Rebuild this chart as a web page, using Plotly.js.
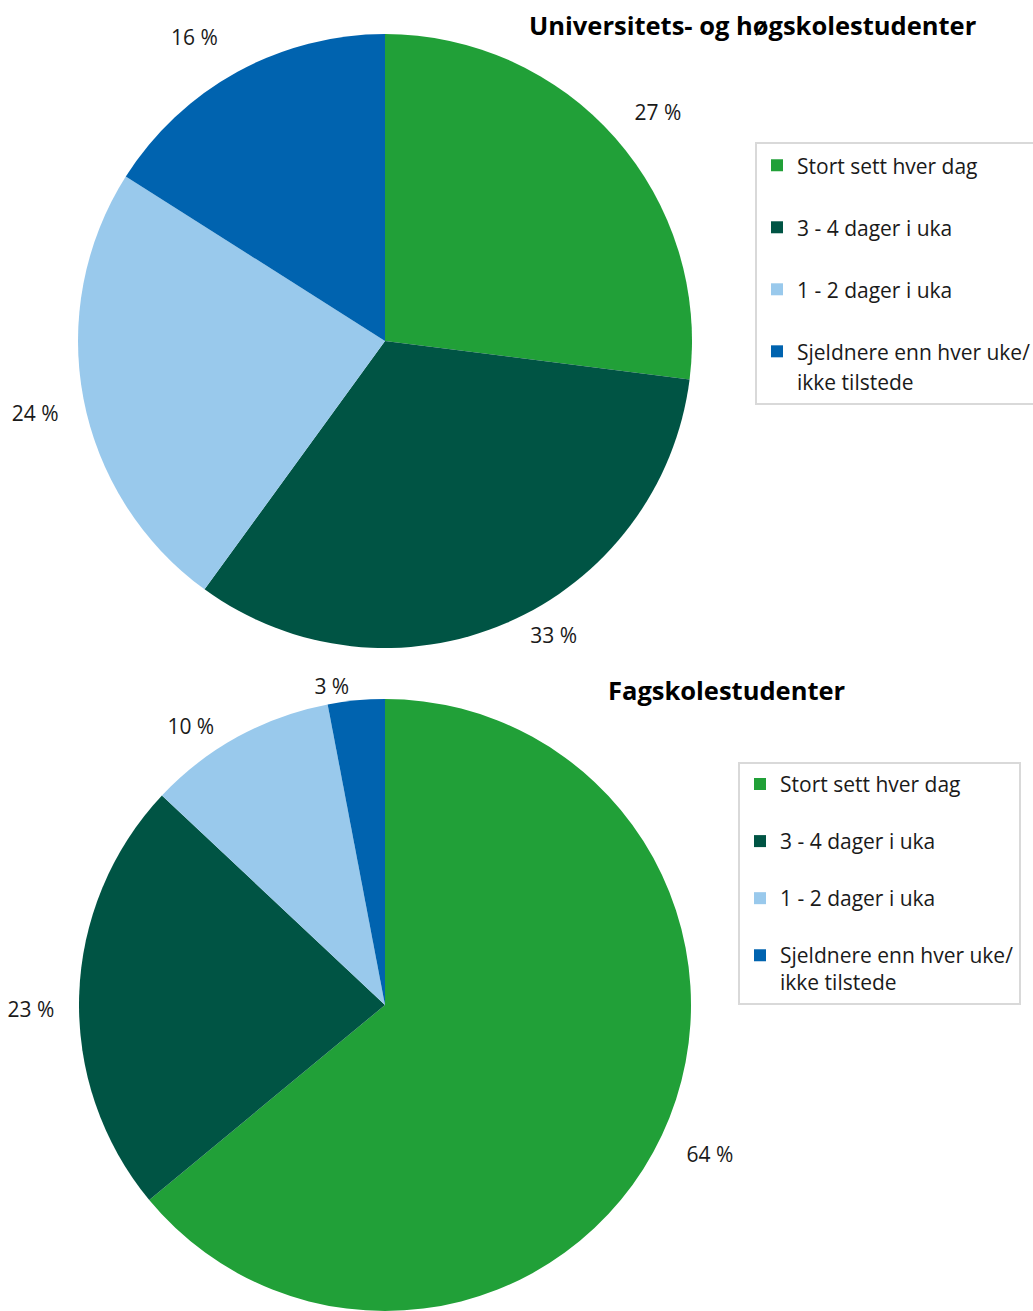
<!DOCTYPE html>
<html>
<head>
<meta charset="utf-8">
<script src="https://cdn.plot.ly/plotly-3.0.1.min.js"></script>
<style>html,body{margin:0;padding:0;background:#fff;}</style>
</head>
<body>
<div id="chart" style="width:1033px;height:1311px;"></div>
<script>
// Data
const categories = ["Stort sett hver dag", "3 - 4 dager i uka", "1 - 2 dager i uka", "Sjeldnere enn hver uke/<br>ikke tilstede"];
const universitetValues = [27, 33, 24, 16];
const fagskoleValues = [64, 23, 10, 3];
const titles = ["Universitets- og høgskolestudenter", "Fagskolestudenter"];
const colors = ["#21a038", "#005444", "#99c9ec", "#0063af"];

const FONT = "Open Sans, Noto Sans, sans-serif";
const itemFont = 21;
// legend display labels (pad single-line entries to give the original spacing)
const legendLabels = categories.map(c => c.includes("<br>")
  ? '<span style="font-size:' + itemFont + 'px">' + c + '</span>'
  : '<span style="font-size:' + itemFont + 'px">' + c + '</span><br> ');

// label templates: invisible padding pushes the value labels a bit further from the pie
const NB = "\u00a0";
const V = "%{value} %";
const topTemplates = [NB + V + "<br>" + NB, NB.repeat(3) + V, NB + "<br>" + V + NB.repeat(2), V + NB + "<br>" + NB];
const bottomTemplates = [NB + "<br>" + NB.repeat(2) + V, NB + "<br>" + V + NB.repeat(2), V + NB.repeat(3), V];

function pieTrace(values, domainY, legendId, group, templates) {
  return {
    type: "pie",
    labels: legendLabels,
    values: values,
    sort: false,
    direction: "clockwise",
    rotation: 0,
    marker: {colors: colors, line: {width: 0}},
    textposition: "outside",
    texttemplate: templates,
    textfont: {family: FONT, size: 21, color: "#1a1a1a"},
    domain: {x: [78/1033, 692/1033], y: domainY},
    legend: legendId,
    legendgroup: group,
    hoverinfo: "label+value",
    automargin: false
  };
}

const data = [
  pieTrace(universitetValues, [1 - 648/1311, 1 - 34/1311], "legend", "uni", topTemplates),
  pieTrace(fagskoleValues, [0, 1 - 699/1311], "legend2", "fag", bottomTemplates)
];

const legendBase = {
  bordercolor: "#d9d9d9",
  borderwidth: 2,
  bgcolor: "#fff",
  valign: "top",
  xanchor: "left",
  yanchor: "top",
  orientation: "v",
  itemclick: false
};

const layout = {
  width: 1033,
  height: 1311,
  margin: {l: 0, r: 0, t: 0, b: 0, autoexpand: false},
  paper_bgcolor: "#fff",
  font: {family: FONT, color: "#1a1a1a"},
  showlegend: true,
  legend: Object.assign({}, legendBase, {x: 755/1033, y: 1 - 142/1311,
    font: {family: FONT, size: 22.7, color: "#1a1a1a"}}),
  legend2: Object.assign({}, legendBase, {x: 738/1033, y: 1 - 762/1311,
    font: {family: FONT, size: 20.8, color: "#1a1a1a"}}),
  annotations: [
    {text: "<b>" + titles[0] + "</b>", x: 753/1033, y: 1 - 25/1311, xref: "paper", yref: "paper",
     xanchor: "center", yanchor: "middle",
     showarrow: false, font: {family: FONT, size: 25.5, color: "#000"}},
    {text: "<b>" + titles[1] + "</b>", x: 727/1033, y: 1 - 690/1311, xref: "paper", yref: "paper",
     xanchor: "center", yanchor: "middle",
     showarrow: false, font: {family: FONT, size: 25.5, color: "#000"}}
  ]
};

Plotly.newPlot("chart", data, layout, {displayModeBar: false, staticPlot: true});
</script>
</body>
</html>
